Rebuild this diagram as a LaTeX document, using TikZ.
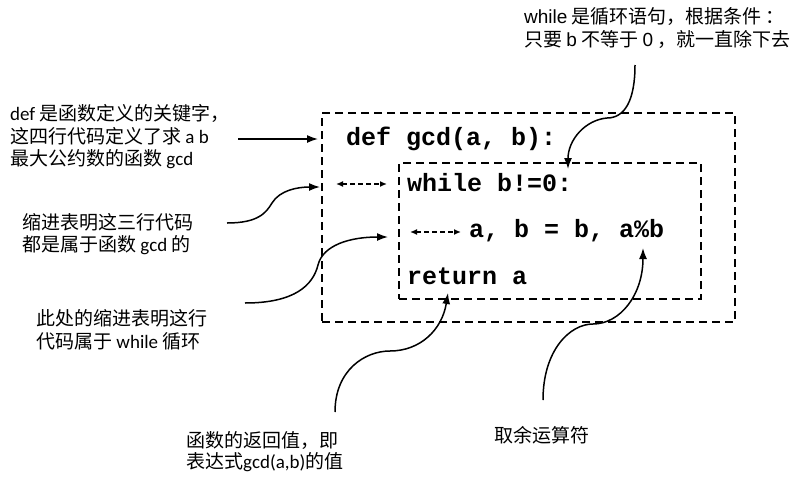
\documentclass[tikz,border=0pt]{standalone}
\usepackage{fontspec}
\setmainfont{Noto Sans CJK SC}
\newfontfamily\lat{Carlito}
\newfontfamily\arial{Liberation Sans}
\newfontfamily\codefont{Liberation Mono}
\usetikzlibrary{arrows.meta}
\tikzset{
  note/.style={font=\fontsize{19}{22.5}\selectfont, align=left, inner sep=0pt, anchor=west},
  codeline/.style={font=\codefont\bfseries\fontsize{25}{30}\selectfont, inner sep=0pt, anchor=base west},
  dashbox/.style={draw, line width=1.6pt, dash pattern=on 8pt off 5pt, inner sep=0pt},
  callout/.style={line width=1.5pt, -{Latex[length=11pt,width=8pt]}},
  indent/.style={line width=1.6pt, dash pattern=on 5pt off 3pt, {Latex[length=7pt,width=6pt]}-{Latex[length=7pt,width=6pt]}},
}
\begin{document}
\begin{tikzpicture}[x=1pt,y=-1pt]
\useasboundingbox (0,0) rectangle (806,482);

% boxes
\node[dashbox, minimum width=413pt, minimum height=209pt] (outer) at (528.5,217.5) {};
\node[dashbox, minimum width=302pt, minimum height=136pt] (inner) at (550,231) {};

% code
\node[codeline] (def) at (346,145) {def gcd(a, b):};
\node[codeline] (wh) at (407,191) {while b!=0:};
\node[codeline] (asg) at (469,237) {a, b = b, a\%b};
\node[codeline] (ret) at (407,284) {return a};

% indentation markers
\coordinate (i1a) at (336,184);
\coordinate (i1b) at (387,184);
\coordinate (i2a) at (410,232);
\coordinate (i2b) at (461,232);
\draw[indent] (i1a) -- (i1b);
\draw[indent] (i2a) -- (i2b);

% notes
\node[note] (n1) at (10,137) {{\lat def} 是函数定义的关键字，\\这四行代码定义了求 {\lat a b}\\最大公约数的函数 {\lat gcd}};
\node[note] (n2) at (22,234) {缩进表明这三行代码\\都是属于函数 {\lat gcd} 的};
\node[note] (n3) at (36,330) {此处的缩进表明这行\\代码属于 {\lat while} 循环};
\node[note, font=\fontsize{19}{21}\selectfont] (n4) at (186,452) {函数的返回值，即\\表达式{\lat gcd(a,b)}的值};
\node[note, font=\fontsize{19}{23}\selectfont] (n5) at (524,28) {{\arial while} 是循环语句，根据条件 ：\\只要 {\arial b} 不等于 {\arial 0} ，就一直除下去};
\node[note, anchor=center] (n6) at (542,435) {取余运算符};

% callout anchors
\coordinate (s1) at (238,139);  \coordinate (t1) at (318,139);
\coordinate (s2) at (227,223);  \coordinate (t2) at (320,187);
\coordinate (s3) at (245,303);  \coordinate (t3) at (388,237);
\coordinate (s4) at (335,412);  \coordinate (t4) at (448,293);
\coordinate (s5) at (543,400);  \coordinate (t5) at (643,248);
\coordinate (s6) at (635,65);   \coordinate (t6) at (568,169);

\draw[callout] (s1) -- (t1);
\draw[callout] (s2) .. controls (258,223) and (266,213) .. (272,203) .. controls (280,190) and (298,187) .. (t2);
\draw[callout] (s3) .. controls (295,303) and (313,285) .. (318,265) .. controls (323,245) and (350,237) .. (t3);
\draw[callout] (s4) .. controls (335,370) and (365,351) .. (390,351) .. controls (420,351) and (442,330) .. (t4);
\draw[callout] (s5) .. controls (543,350) and (570,324) .. (593,324) .. controls (620,324) and (643,295) .. (t5);
\draw[callout] (s6) .. controls (635,100) and (625,118) .. (607,118) .. controls (585,120) and (568,140) .. (t6);
\end{tikzpicture}
\end{document}
